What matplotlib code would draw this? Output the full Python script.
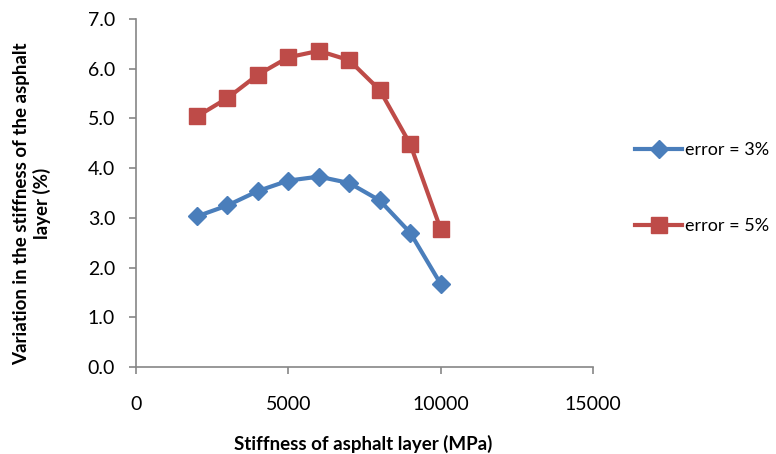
import matplotlib.pyplot as plt
import numpy as np

plt.rcParams['font.family'] = ['Lato', 'DejaVu Sans']

stiffness = [2000, 3000, 4000, 5000, 6000, 7000, 8000, 9000, 10000]
err3 = [3.03, 3.25, 3.54, 3.75, 3.83, 3.70, 3.35, 2.70, 1.67]
err5 = [5.04, 5.41, 5.88, 6.23, 6.36, 6.17, 5.57, 4.48, 2.77]

fig = plt.figure(figsize=(7.76, 4.54), dpi=100)
ax = fig.add_axes([0.1753, 0.1916, 0.589, 0.7665])

l1, = ax.plot(stiffness, err3, color='#4A7EBB', lw=3, marker='D', markersize=9,
              label='error = 3%')
l2, = ax.plot(stiffness, err5, color='#BE4B48', lw=3, marker='s', markersize=11,
              label='error = 5%')

ax.set_xlim(0, 15000)
ax.set_ylim(0, 7)
ax.set_xticks([0, 5000, 10000, 15000])
ax.set_yticks(np.arange(0, 7.1, 1.0))
ax.set_yticklabels(['%.1f' % v for v in np.arange(0, 7.1, 1.0)])

for s in ['top', 'right']:
    ax.spines[s].set_visible(False)
for s in ['left', 'bottom']:
    ax.spines[s].set_color('#868686')
    ax.spines[s].set_linewidth(1.2)
ax.tick_params(colors='#868686', labelcolor='black', labelsize=14, length=5,
               direction='out', width=1.2)
ax.tick_params(axis='x', pad=16)
ax.tick_params(axis='y', pad=10)

ax.set_xlabel('Stiffness of asphalt layer (MPa)', fontsize=13.5, fontweight='bold')
ax.xaxis.set_label_coords(0.497, -0.195)
ax.set_ylabel('Variation in the stiffness of the asphalt\nlayer (%)', fontsize=13.5,
              fontweight='bold', multialignment='center')
ax.yaxis.set_label_coords(-0.186, 0.47)

fig.legend(handles=[l1, l2], loc='upper left', bbox_to_anchor=(0.798, 0.722),
           frameon=False, fontsize=13, labelspacing=3.3, handlelength=2.6,
           handletextpad=0.15)

fig.savefig('out.png', dpi=100)
